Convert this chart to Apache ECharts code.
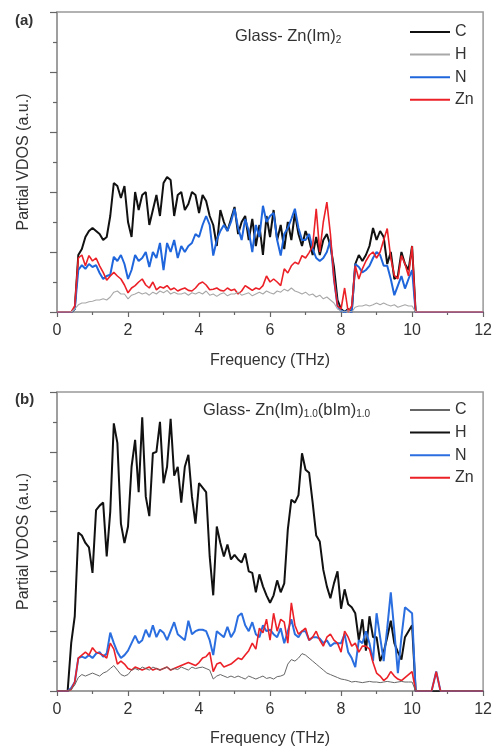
<!DOCTYPE html>
<html>
<head>
<meta charset="utf-8">
<script src="https://cdn.jsdelivr.net/npm/echarts@6/dist/echarts.min.js"></script>
<style>html,body{margin:0;padding:0;background:#fff;}#c{width:495px;height:749px;}</style>
</head>
<body>
<div id="c"></div>
<script>
// Frequency grid (THz)
const freq = [0, 0.3,
  0.4, 0.5, 0.6, 0.7, 0.8, 0.9,
  1.0, 1.1, 1.2, 1.3, 1.4, 1.5, 1.6, 1.7, 1.8, 1.9,
  2.0, 2.1, 2.2, 2.3, 2.4, 2.5, 2.6, 2.7, 2.8, 2.9,
  3.0, 3.1, 3.2, 3.3, 3.4, 3.5, 3.6, 3.7, 3.8, 3.9,
  4.0, 4.1, 4.2, 4.3, 4.4, 4.5, 4.6, 4.7, 4.8, 4.9,
  5.0, 5.1, 5.2, 5.3, 5.4, 5.5, 5.6, 5.7, 5.8, 5.9,
  6.0, 6.1, 6.2, 6.3, 6.4, 6.5, 6.6, 6.7, 6.8, 6.9,
  7.0, 7.1, 7.2, 7.3, 7.4, 7.5, 7.6, 7.7, 7.8, 7.9,
  8.0, 8.1, 8.2, 8.3, 8.4, 8.5, 8.6, 8.7, 8.8, 8.9,
  9.0, 9.1, 9.2, 9.3, 9.4, 9.5, 9.6, 9.7, 9.8, 9.9,
  10.0, 10.1, 10.2, 10.55, 10.68, 10.8, 12];

// Panel (a): Glass- Zn(Im)2
const cA = [0, 0,
  0, 0.05, 0.95, 1.05, 1.25, 1.35,
  1.4, 1.35, 1.3, 1.2, 1.25, 1.6, 2.15, 2.1, 1.9, 2.1,
  1.5, 1.25, 2.0, 1.7, 1.95, 2.0, 1.45, 1.7, 1.95, 1.6,
  2.15, 2.25, 2.2, 1.6, 1.95, 2.0, 1.7, 1.8, 2.0, 1.95,
  1.65, 1.95, 1.85, 1.6, 1.45, 1.1, 1.7, 1.5, 1.35, 1.55,
  1.75, 1.3, 1.5, 1.6, 1.2, 1.55, 1.1, 1.45, 0.95, 1.6,
  1.25, 1.7, 1.2, 1.45, 1.05, 1.5, 1.2, 1.65, 1.3, 1.1,
  1.35, 1.2, 0.95, 1.25, 0.95, 1.2, 1.3, 1.1, 0.75, 0.2,
  0.05, 0, 0.05, 0, 0.8, 0.95, 0.85, 0.95, 1.1, 1.4,
  1.2, 1.35, 1.25, 0.8, 1.0, 0.55, 0.6, 1.0, 0.8, 0.7,
  1.1, 0, 0, 0, 0, 0, 0];
const hA = [0, 0,
  0, 0.05, 0.12, 0.15, 0.15, 0.17,
  0.18, 0.2, 0.2, 0.22, 0.2, 0.25, 0.33, 0.35, 0.3, 0.3,
  0.22, 0.28, 0.3, 0.33, 0.3, 0.32, 0.28, 0.33, 0.3, 0.35,
  0.32, 0.36, 0.3, 0.33, 0.3, 0.3, 0.32, 0.28, 0.32, 0.3,
  0.33, 0.3, 0.35, 0.28, 0.3, 0.26, 0.3, 0.32, 0.27, 0.3,
  0.3, 0.33, 0.28, 0.3, 0.32, 0.27, 0.3, 0.33, 0.3, 0.35,
  0.32, 0.3, 0.35, 0.33, 0.38, 0.35, 0.4, 0.35, 0.33, 0.3,
  0.33, 0.28, 0.3, 0.25, 0.28, 0.22, 0.25, 0.2, 0.15, 0.05,
  0.02, 0, 0.02, 0, 0.08, 0.1, 0.1, 0.12, 0.1, 0.12,
  0.15, 0.12, 0.15, 0.12, 0.1, 0.12, 0.08, 0.1, 0.12, 0.1,
  0.1, 0, 0, 0, 0, 0, 0];
const nA = [0, 0,
  0, 0.05, 0.7, 0.78, 0.72, 0.8,
  0.75, 0.78, 0.65, 0.55, 0.6, 0.62, 0.92, 0.85, 0.95, 0.8,
  0.55, 0.7, 0.95, 0.85, 0.9, 1.0, 0.75, 1.0, 0.9, 1.15,
  0.7, 1.15, 1.0, 1.2, 0.9, 1.1, 1.0, 1.1, 1.15, 1.3,
  1.25, 1.45, 1.6, 1.45, 0.94, 1.2, 1.35, 1.45, 1.35, 1.5,
  1.72, 1.4, 1.2, 1.55, 1.35, 1.0, 1.45, 1.25, 1.77, 1.5,
  1.6, 1.65, 1.2, 0.94, 1.3, 1.4, 1.55, 1.72, 1.4, 1.2,
  1.2, 1.3, 1.05, 0.9, 0.85, 0.9, 1.0, 1.2, 0.55, 0.1,
  0.02, 0, 0.02, 0, 0.8, 0.75, 0.66, 0.7, 0.77, 0.9,
  1.0, 0.95, 0.77, 0.77, 0.55, 0.28, 0.44, 0.6, 0.39, 0.55,
  0.7, 0, 0, 0, 0, 0, 0];
const znA = [0, 0,
  0, 0.1, 0.9, 0.95, 0.77, 0.94,
  0.85, 0.9, 0.77, 0.66, 0.53, 0.6, 0.66, 0.6, 0.55, 0.45,
  0.32, 0.4, 0.44, 0.5, 0.55, 0.45, 0.4, 0.5, 0.37, 0.42,
  0.4, 0.44, 0.37, 0.4, 0.35, 0.38, 0.4, 0.36, 0.35, 0.4,
  0.47, 0.5, 0.45, 0.37, 0.38, 0.4, 0.36, 0.35, 0.4, 0.36,
  0.38, 0.3, 0.35, 0.44, 0.4, 0.36, 0.4, 0.38, 0.44, 0.6,
  0.5, 0.55, 0.5, 0.44, 0.72, 0.65, 0.77, 0.83, 0.8, 0.94,
  0.9, 0.99, 1.1, 1.72, 1.0, 1.5, 1.83, 1.3, 0.55, 0.1,
  0.05, 0.4, 0.0, 0.1, 0.77, 0.55, 0.72, 0.85, 0.95, 1.0,
  0.9, 1.0, 1.2, 1.39, 0.9, 0.61, 0.55, 0.94, 0.8, 0.6,
  1.1, 0, 0, 0, 0, 0, 0];

// Panel (b): Glass- Zn(Im)1.0(bIm)1.0
const cB = [0, 0,
  0.05, 0.2, 0.45, 0.55, 0.5, 0.55,
  0.6, 0.55, 0.5, 0.6, 0.65, 0.75, 0.85, 0.7, 0.55, 0.5,
  0.55, 0.7, 0.75, 0.7, 0.8, 0.75, 0.7, 0.8, 0.75, 0.7,
  0.75, 0.8, 0.7, 0.75, 0.72, 0.8, 0.75, 0.7, 0.8, 0.75,
  0.78, 0.8, 0.75, 0.7, 0.4, 0.5, 0.55, 0.5, 0.45, 0.5,
  0.45, 0.5, 0.45, 0.4, 0.5, 0.45, 0.4, 0.45, 0.5, 0.42,
  0.45, 0.4, 0.48, 0.5, 0.55, 0.9, 1.05, 1.0, 1.1, 1.25,
  1.2, 1.1, 1.0, 0.9, 0.8, 0.7, 0.6, 0.55, 0.5, 0.45,
  0.4, 0.38, 0.35, 0.3, 0.32, 0.3, 0.28, 0.3, 0.32, 0.3,
  0.3, 0.28, 0.3, 0.32, 0.3, 0.28, 0.3, 0.32, 0.3, 0.3,
  0.3, 0, 0, 0, 0, 0, 0];
const hB = [0, 0,
  1.6, 2.5, 5.3, 5.2, 4.95, 4.8,
  3.95, 6.05, 6.2, 6.3, 4.5, 6.0, 8.95, 8.3, 5.6, 4.95,
  5.5, 7.5, 8.4, 6.65, 9.15, 6.5, 5.85, 7.95, 8.0, 9.0,
  6.95, 7.5, 9.1, 7.2, 7.5, 6.3, 7.5, 7.9, 6.5, 5.6,
  6.95, 6.8, 6.65, 4.5, 3.2, 5.5, 4.95, 4.5, 4.9, 4.4,
  4.55, 4.4, 4.3, 4.6, 4.0, 3.95, 3.3, 3.9, 3.5, 3.2,
  2.95, 3.2, 3.7, 3.3, 3.6, 5.4, 6.4, 6.3, 6.55, 7.95,
  7.4, 7.3, 6.3, 5.2, 5.0, 4.05, 3.5, 3.1, 3.6, 4.0,
  2.75, 3.4, 2.9, 2.8, 2.6, 1.7, 2.4, 1.35, 2.5, 1.8,
  1.8, 1.0, 1.3, 1.8, 2.35, 1.6, 1.3, 1.05, 1.8, 2.0,
  2.2, 0, 0, 0, 0, 0, 0];
const nB = [0, 0,
  0.1, 0.3, 1.1, 1.15, 1.1, 1.2,
  1.1, 1.25, 1.3, 1.15, 1.25, 1.95, 1.6, 1.3, 1.1, 1.2,
  1.35, 1.6, 1.85, 1.6, 1.7, 2.05, 1.8, 2.2, 1.8, 2.05,
  1.95, 1.7, 2.0, 2.3, 1.9, 1.8, 1.7, 2.35, 1.9, 2.0,
  2.05, 2.05, 2.0, 1.7, 1.2, 2.0, 1.9, 1.8, 2.15, 1.8,
  2.0, 2.5, 2.6, 2.2, 2.0, 2.3, 1.9, 1.8, 2.2, 2.0,
  2.05, 1.9, 1.8, 2.1, 1.6, 2.0, 2.4, 1.9, 1.8, 2.0,
  2.0, 1.7, 1.8, 1.8, 1.75, 1.6, 1.7, 1.5, 1.6, 1.6,
  1.6, 1.9, 1.3, 1.1, 0.8, 1.7, 1.6, 2.0, 1.6, 1.0,
  2.6, 1.8, 1.0, 2.1, 3.3, 2.0, 0.6, 1.8, 2.8, 2.7,
  2.6, 0, 0, 0, 0.65, 0, 0];
const znB = [0, 0,
  0.05, 0.3, 1.1, 1.2, 1.3, 1.2,
  1.45, 1.3, 1.25, 1.2, 1.1, 1.6, 1.4, 0.9, 1.0, 0.9,
  0.75, 0.7, 0.8, 0.75, 0.7, 0.75, 0.8, 0.7, 0.75, 0.7,
  0.75, 0.8, 0.7, 0.75, 0.8, 0.85, 0.9, 0.95, 0.9, 0.85,
  0.95, 1.1, 1.15, 1.3, 0.65, 0.9, 0.95, 0.8, 0.85, 0.9,
  1.0, 1.1, 1.05, 1.2, 1.35, 1.6, 1.4, 2.1, 1.95, 2.4,
  1.7, 2.6, 2.0, 2.4, 2.3, 1.6, 2.95, 2.2, 1.9, 2.0,
  2.1, 1.7, 1.8, 2.0, 1.7, 1.5, 1.8, 1.9, 1.7, 1.6,
  1.3, 2.0, 1.8, 1.5, 1.6, 1.3, 1.5, 1.5, 1.4, 0.95,
  0.6, 0.5, 0.35, 0.45, 0.65, 0.5, 0.4, 0.35, 0.45, 0.55,
  0.65, 0, 0, 0, 0.65, 0, 0];

const xTicks = { min: 0, max: 12, interval: 2 };

const FONT = "'Liberation Sans', Arial, sans-serif";
const TXT = '#333';
const AX = '#999';

function pts(v) { return freq.map((f, i) => [f, v[i]]); }

function xAx(gi, gap) {
  return {
    type: 'value', gridIndex: gi, min: xTicks.min, max: xTicks.max, interval: xTicks.interval,
    name: 'Frequency (THz)', nameLocation: 'middle', nameGap: gap,
    nameTextStyle: { fontSize: 16, color: TXT, fontFamily: FONT },
    axisLine: { show: true, onZero: false, lineStyle: { color: AX, width: 1.5 } },
    axisTick: { show: true, length: 5, lineStyle: { color: '#666', width: 1.2 } },
    minorTick: { show: true, splitNumber: 2, length: 3, lineStyle: { color: '#666', width: 1.2 } },
    splitLine: { show: false }, minorSplitLine: { show: false },
    axisLabel: { fontSize: 16, color: TXT, fontFamily: FONT, margin: 11, showMaxLabel: true, showMinLabel: true }
  };
}
function yAx(gi, max, interval) {
  return {
    type: 'value', gridIndex: gi, min: 0, max: max, interval: interval,
    name: 'Partial VDOS (a.u.)', nameLocation: 'middle', nameGap: 25, nameRotate: 90,
    nameTextStyle: { fontSize: 16, color: TXT, fontFamily: FONT },
    axisLine: { show: true, lineStyle: { color: AX, width: 1.5 } },
    axisTick: { show: true, length: 7, lineStyle: { color: '#666', width: 1.2 } },
    minorTick: { show: true, splitNumber: 2, length: 4, lineStyle: { color: '#666', width: 1.2 } },
    splitLine: { show: false }, minorSplitLine: { show: false },
    axisLabel: { show: false }
  };
}
function ser(name, gi, v, color, width) {
  return {
    name: name, type: 'line', xAxisIndex: gi, yAxisIndex: gi, data: pts(v),
    symbol: 'none', showSymbol: false, smooth: false,
    lineStyle: { color: color, width: width }, itemStyle: { color: color }
  };
}
const sub = { n: { fontSize: 16.5, fontWeight: 'normal', color: TXT, fontFamily: FONT },
              s: { fontSize: 10, fontWeight: 'normal', color: TXT, fontFamily: FONT, verticalAlign: 'bottom', padding: [8, 0, 0, 0] } };
function legendOf(top, names) {
  return { left: 405, top: top, orient: 'vertical', icon: 'rect', itemWidth: 40, itemHeight: 2, itemGap: 6.6,
    data: names, formatter: n => n.split('_')[0],
    textStyle: { fontSize: 16, lineHeight: 16, color: TXT, fontFamily: FONT } };
}

const chart = echarts.init(document.getElementById('c'), null, { renderer: 'canvas' });
chart.setOption({
  animation: false,
  backgroundColor: '#fff',
  grid: [
    { left: 57, top: 12, width: 428, height: 300, show: true, borderColor: AX, borderWidth: 1.5 },
    { left: 57, top: 392, width: 428, height: 299, show: true, borderColor: AX, borderWidth: 1.5 }
  ],
  xAxis: [xAx(0, 41), xAx(1, 40)],
  yAxis: [yAx(0, 5, 1), yAx(1, 10, 2)],
  title: [
    { text: '(a)', left: 10, top: 8, textStyle: { fontSize: 15, fontWeight: 'bold', color: TXT, fontFamily: FONT } },
    { text: '(b)', left: 10, top: 387, textStyle: { fontSize: 15, fontWeight: 'bold', color: TXT, fontFamily: FONT } },
    { text: '{n|Glass- Zn(Im)}{s|2}', left: 230, top: 22, textStyle: { rich: sub } },
    { text: '{n|Glass- Zn(Im)}{s|1.0}{n|(bIm)}{s|1.0}', left: 198, top: 396, textStyle: { rich: sub } }
  ],
  legend: [
    legendOf(19, ['C_a', 'H_a', 'N_a', 'Zn_a']),
    legendOf(397, ['C_b', 'H_b', 'N_b', 'Zn_b'])
  ],
  series: [
    ser('C_a', 0, cA, '#111111', 2),
    ser('N_a', 0, nA, '#1f66dc', 2),
    ser('Zn_a', 0, znA, '#ec2027', 1.6),
    ser('H_a', 0, hA, '#a8a8a8', 1.1),
    ser('H_b', 1, hB, '#111111', 2),
    ser('N_b', 1, nB, '#2a6ee0', 2),
    ser('Zn_b', 1, znB, '#ec2027', 1.6),
    ser('C_b', 1, cB, '#666666', 1)
  ]
});
</script>
</body>
</html>
